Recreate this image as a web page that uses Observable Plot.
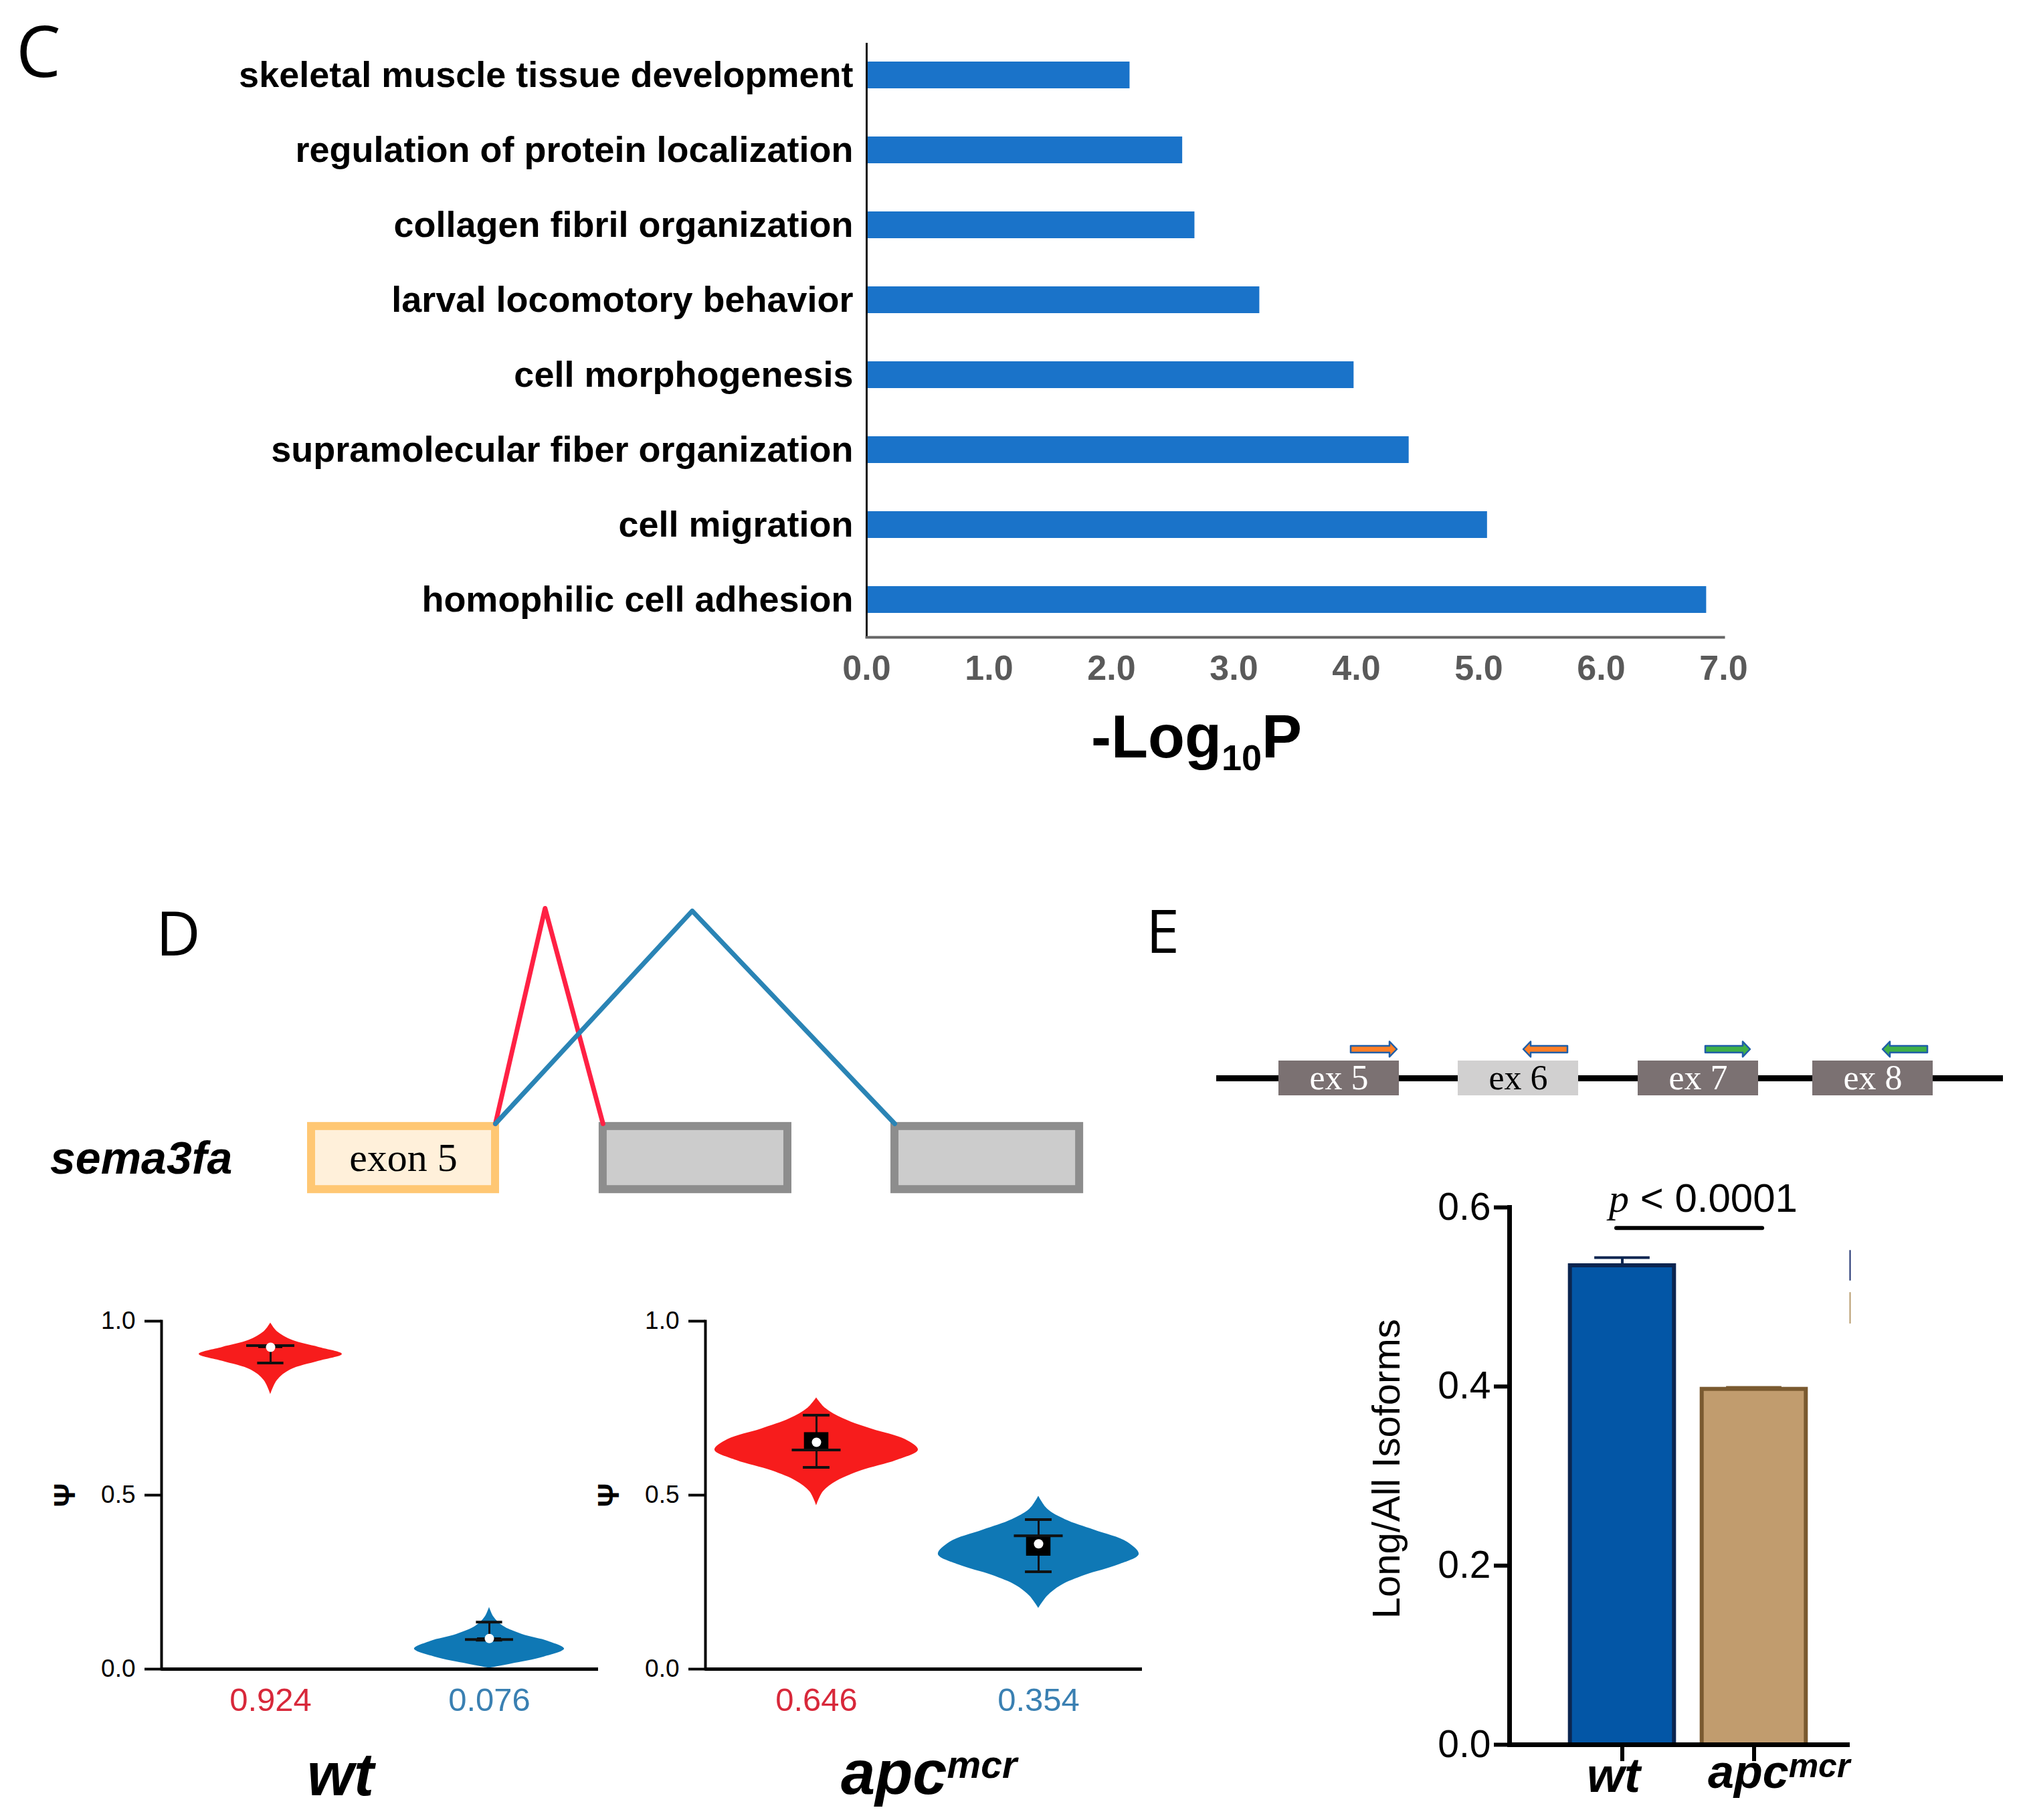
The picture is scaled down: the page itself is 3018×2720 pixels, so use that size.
<!DOCTYPE html>
<html><head><meta charset="utf-8">
<script src="https://cdn.jsdelivr.net/npm/d3@7"></script>
<script src="https://cdn.jsdelivr.net/npm/@observablehq/plot@0.6"></script>
<style>
body{margin:0;background:#fff;}
#root{position:relative;width:3018px;height:2720px;background:#fff;overflow:hidden;font-family:"Liberation Sans",Arial,sans-serif;}
.abs{position:absolute;line-height:1;white-space:nowrap;}
</style></head><body><div id="root"></div>
<script>
// ---------- Panel C: GO enrichment ----------
const goTerms = ["skeletal muscle tissue development","regulation of protein localization","collagen fibril organization","larval locomotory behavior","cell morphogenesis","supramolecular fiber organization","cell migration","homophilic cell adhesion"];
const goLogP = [2.15, 2.58, 2.68, 3.21, 3.98, 4.43, 5.07, 6.86];
const goTicks = [0, 1, 2, 3, 4, 5, 6, 7];

// ---------- Panel D: sashimi + violins ----------
const sashimiExons = [
  {name: "exon 5", start: 0, end: 1, focal: true},
  {name: "", start: 1.585, end: 2.589, focal: false},
  {name: "", start: 3.171, end: 4.175, focal: false}
];
const junctions = [
  {from: 1.0, to: 1.585, apex: 1.27, height: 1.0, kind: "inclusion"},
  {from: 1.0, to: 3.171, apex: 2.07, height: 0.988, kind: "skipping"}
];
const psiTicks = [0, 0.5, 1];
const wtPsi = [0.924, 0.076];
const apcPsi = [0.646, 0.354];
// violin outlines: [psi, half-width]
const wtInclShape = [[0.995,0],[0.97,0.03],[0.945,0.10],[0.925,0.22],[0.905,0.327],[0.885,0.22],[0.86,0.09],[0.83,0.03],[0.79,0]];
const wtSkipShape = [[0.178,0],[0.15,0.02],[0.125,0.06],[0.10,0.15],[0.08,0.27],[0.058,0.343],[0.035,0.25],[0.015,0.10],[0.003,0]];
const apcInclShape = [[0.78,0],[0.75,0.04],[0.72,0.12],[0.69,0.25],[0.66,0.40],[0.63,0.458],[0.60,0.36],[0.57,0.20],[0.54,0.09],[0.51,0.03],[0.47,0]];
const apcSkipShape = [[0.497,0],[0.46,0.04],[0.43,0.12],[0.40,0.25],[0.365,0.40],[0.33,0.452],[0.30,0.36],[0.27,0.21],[0.24,0.10],[0.21,0.04],[0.175,0]];
// box summaries: lo, q1, q3, hi, line, mean
const wtStats = [
  {lo: 0.88, q1: 0.922, q3: 0.93, hi: 0.93, line: 0.93, mean: 0.925},
  {lo: 0.083, q1: 0.083, q3: 0.09, hi: 0.135, line: 0.085, mean: 0.088}
];
const apcStats = [
  {lo: 0.58, q1: 0.63, q3: 0.68, hi: 0.73, line: 0.63, mean: 0.652},
  {lo: 0.28, q1: 0.325, q3: 0.383, hi: 0.43, line: 0.383, mean: 0.36}
];

// ---------- Panel E: gene model + qPCR ratio ----------
const geneSpan = [-0.93, 10.83];
const exonsE = [
  {name: "ex 5", start: 0, end: 1.8, alt: false},
  {name: "ex 6", start: 2.68, end: 4.48, alt: true},
  {name: "ex 7", start: 5.37, end: 7.17, alt: false},
  {name: "ex 8", start: 7.98, end: 9.78, alt: false}
];
const primers = [
  {start: 1.08, end: 1.77, dir: 1, pair: "long"},
  {start: 3.66, end: 4.32, dir: -1, pair: "long"},
  {start: 6.38, end: 7.05, dir: 1, pair: "all"},
  {start: 9.03, end: 9.70, dir: -1, pair: "all"}
];
const isoGroups = ["wt", "apc"];
const isoRatio = [0.535, 0.397];
const isoErr = [0.009, 0.002];
const isoTicks = [0, 0.2, 0.4, 0.6];
const pText = "< 0.0001";

// ---------- helpers ----------
const root = document.getElementById("root");
const baseStyle = {fontFamily: "'Liberation Sans', Arial, sans-serif", background: "transparent", overflow: "visible", maxWidth: "none"};
function place(node, left, top) {
  const d = document.createElement("div");
  d.style.position = "absolute"; d.style.left = left + "px"; d.style.top = top + "px";
  d.appendChild(node); root.appendChild(d);
}
function label(html, css) {
  const d = document.createElement("div");
  d.className = "abs"; d.innerHTML = html;
  Object.assign(d.style, css); root.appendChild(d);
}

// ---------- Panel C ----------
const goData = goTerms.map((t, i) => ({term: t, logP: goLogP[i]}));
place(Plot.plot({
  width: 2700, height: 1060,
  marginLeft: 1295, marginRight: 124, marginTop: 65, marginBottom: 108,
  style: baseStyle,
  x: {domain: [0, 7], label: null},
  y: {domain: goTerms, range: [54, 953], paddingInner: 0.644, paddingOuter: 0.322, label: null},
  marks: [
    Plot.barX(goData, {x: "logP", y: "term", fill: "#1a73c9"}),
    Plot.axisY({tickSize: 0, tickPadding: 20, fontSize: 54, fontWeight: "bold", fill: "#000", label: null}),
    Plot.axisX({ticks: goTicks, tickFormat: d3.format(".1f"), tickSize: 0, tickPadding: 27, fontSize: 52, fontWeight: "bold", fill: "#5a5a5a", label: null}),
    Plot.frame({anchor: "left", stroke: "#111", strokeWidth: 3}),
    Plot.frame({anchor: "bottom", stroke: "#666", strokeWidth: 4})
  ]
}), 0, 0);
label('-Log<span style="font-size:0.6em;vertical-align:-0.35em">10</span>P',
  {left: "1631px", top: "1056px", fontSize: "90px", fontWeight: "bold", color: "#000"});
label("C", {left: "24px", top: "21px", fontSize: "106px", fontFamily: "'Open Sans', sans-serif", color: "#000"});

// ---------- Panel D: sashimi ----------
const junctionPts = junctions.flatMap(j => [
  {x: j.from, y: 0, kind: j.kind}, {x: j.apex, y: j.height, kind: j.kind}, {x: j.to, y: 0, kind: j.kind}
]);
place(Plot.plot({
  width: 1300, height: 480, margin: 0,
  style: baseStyle,
  x: {domain: [0, 1], range: [65, 340], axis: null},
  y: {domain: [0, 1], range: [349, 27], axis: null},
  color: {type: "identity"},
  marks: [
    Plot.rect(sashimiExons, {x1: "start", x2: "end", y1: -0.305, y2: -0.012,
      fill: d => d.focal ? "#fff0da" : "#cccccc",
      stroke: d => d.focal ? "#ffc773" : "#8d8d8d", strokeWidth: 12}),
    Plot.text(sashimiExons, {x: d => (d.start + d.end) / 2, y: -0.16, text: "name",
      fontFamily: "'Liberation Serif', serif", fontSize: 60, fill: "#000"}),
    Plot.line(junctionPts, {x: "x", y: "y", z: "kind",
      stroke: d => d.kind === "inclusion" ? "#ff2144" : "#2a84b5", strokeWidth: 7})
  ]
}), 400, 1330);
label("sema3fa", {left: "75px", top: "1696px", fontSize: "68px", fontWeight: "bold", fontStyle: "italic", color: "#000"});
label("D", {left: "233px", top: "1347px", fontSize: "92px", fontFamily: "'Open Sans', sans-serif", color: "#000"});

// ---------- Panel D: violins ----------
function violinPlot(shapes, stats, psi, xRange) {
  const red = "#f71c1c", blue = "#0f78b5";
  const cols = [red, blue];
  const marks = [];
  shapes.forEach((s, i) => {
    marks.push(Plot.areaX(s, {y: d => d[0], x1: d => i + 1 - d[1], x2: d => i + 1 + d[1],
      fill: cols[i], curve: "catmull-rom"}));
  });
  const st = stats.map((s, i) => ({...s, pos: i + 1}));
  marks.push(
    Plot.ruleX(st, {x: "pos", y1: "lo", y2: "hi", stroke: "#111", strokeWidth: 3}),
    Plot.rect(st, {x1: d => d.pos - 0.055, x2: d => d.pos + 0.055, y1: "q1", y2: "q3", fill: "#000"}),
    Plot.ruleY(st, {y: "lo", x1: d => d.pos - 0.06, x2: d => d.pos + 0.06, stroke: "#111", strokeWidth: 4}),
    Plot.ruleY(st, {y: "hi", x1: d => d.pos - 0.06, x2: d => d.pos + 0.06, stroke: "#111", strokeWidth: 4}),
    Plot.ruleY(st, {y: "line", x1: d => d.pos - 0.11, x2: d => d.pos + 0.11, stroke: "#111", strokeWidth: 4}),
    Plot.dot(st, {x: "pos", y: "mean", r: 7, fill: "#fff", stroke: "none"}),
    Plot.frame({anchor: "left", stroke: "#000", strokeWidth: 4}),
    Plot.ruleY([0], {stroke: "#000", strokeWidth: 5}),
    Plot.axisY({ticks: psiTicks, tickFormat: d3.format(".1f"), tickSize: 25, tickPadding: 14, fontSize: 37, strokeWidth: 4, label: null}),
    Plot.text(["Ψ"], {frameAnchor: "left", dx: -144, rotate: -90, textAnchor: "middle", fontSize: 44, fontWeight: "bold", fill: "#000"}),
    Plot.text(psi, {x: (d, i) => i + 1, frameAnchor: "bottom", dy: 62, text: d => d.toFixed(3),
      fill: (d, i) => i ? "#3a80b2" : "#d8283a", fontSize: 49})
  );
  return Plot.plot({
    width: 900, height: 820, marginLeft: 241, marginRight: 6, marginTop: 74, marginBottom: 226,
    style: baseStyle,
    x: {domain: [1, 2], range: xRange, axis: null},
    y: {domain: [0, 1], label: null, axis: null},
    color: {type: "identity"},
    marks
  });
}
place(violinPlot([wtInclShape, wtSkipShape], wtStats, wtPsi, [404, 731]), 0, 1900);
place(violinPlot([apcInclShape, apcSkipShape], apcStats, apcPsi, [407, 739]), 813, 1900);
label("wt", {left: "459px", top: "2607px", fontSize: "90px", fontWeight: "bold", fontStyle: "italic", color: "#000"});
label('apc<span style="font-size:57px;position:relative;top:-24px">mcr</span>',
  {left: "1257px", top: "2603px", fontSize: "92px", fontWeight: "bold", fontStyle: "italic", color: "#000"});

// ---------- Panel E: gene model ----------
const bodyH = 0.19, headH = 0.44, headL = 0.11, primerY = 1.654;
const primerPts = primers.flatMap((p, k) => {
  const id = "p" + k;
  if (p.dir > 0) {
    const xh = p.end - headL;
    return [
      {id, pair: p.pair, x: p.start, y1: primerY - bodyH, y2: primerY + bodyH},
      {id, pair: p.pair, x: xh, y1: primerY - bodyH, y2: primerY + bodyH},
      {id, pair: p.pair, x: xh, y1: primerY - headH, y2: primerY + headH},
      {id, pair: p.pair, x: p.end, y1: primerY, y2: primerY}
    ];
  } else {
    const xh = p.start + headL;
    return [
      {id, pair: p.pair, x: p.start, y1: primerY, y2: primerY},
      {id, pair: p.pair, x: xh, y1: primerY - headH, y2: primerY + headH},
      {id, pair: p.pair, x: xh, y1: primerY - bodyH, y2: primerY + bodyH},
      {id, pair: p.pair, x: p.end, y1: primerY - bodyH, y2: primerY + bodyH}
    ];
  }
});
place(Plot.plot({
  width: 1218, height: 140, margin: 0,
  style: baseStyle,
  x: {domain: [0, 9.78], range: [111, 1089], axis: null},
  y: {domain: [-1, 1], range: [117, 65], axis: null},
  color: {type: "identity"},
  marks: [
    Plot.ruleY([0], {x1: geneSpan[0], x2: geneSpan[1], stroke: "#000", strokeWidth: 9}),
    Plot.rect(exonsE, {x1: "start", x2: "end", y1: -1, y2: 1, fill: d => d.alt ? "#d1d0d0" : "#7b7172"}),
    Plot.text(exonsE, {x: d => (d.start + d.end) / 2, y: 0, text: "name",
      fill: d => d.alt ? "#000" : "#fff", fontFamily: "'Liberation Serif', serif", fontSize: 52}),
    Plot.areaY(primerPts, {x: "x", y1: "y1", y2: "y2", z: "id",
      fill: d => d.pair === "long" ? "#ff7f27" : "#3fb048", stroke: "#1f5ea8", strokeWidth: 2.5})
  ]
}), 1800, 1520);
label("E", {left: "1713px", top: "1344px", fontSize: "90px", fontFamily: "'Open Sans', sans-serif", color: "#000"});

// ---------- Panel E: bar chart ----------
const isoData = isoGroups.map((g, i) => ({g, pos: i + 1, v: isoRatio[i], e: isoErr[i]}));
const isoFill = {wt: "#0356a6", apc: "#c19c6e"};
const isoStroke = {wt: "#0b2550", apc: "#7a5a30"};
const xE = d3.scaleLinear().domain([1, 2]).range([474.5, 671.5]);
const rightEdge = xE.invert(815);
place(Plot.plot({
  width: 1068, height: 1020, marginLeft: 306, marginRight: 253, marginTop: 104, marginBottom: 113,
  style: baseStyle,
  x: {domain: [1, 2], range: [474.5, 671.5], axis: null},
  y: {domain: [0, 0.6], label: null, axis: null},
  color: {type: "identity"},
  marks: [
    Plot.rectY(isoData, {x1: d => d.pos - 0.395, x2: d => d.pos + 0.395, y1: 0, y2: "v",
      fill: d => isoFill[d.g], stroke: d => isoStroke[d.g], strokeWidth: 6}),
    Plot.ruleX(isoData, {x: "pos", y1: "v", y2: d => d.v + d.e, stroke: d => isoStroke[d.g], strokeWidth: 4}),
    Plot.ruleY(isoData, {y: d => d.v + d.e, x1: d => d.pos - 0.21, x2: d => d.pos + 0.21, stroke: d => isoStroke[d.g], strokeWidth: 4}),
    Plot.frame({anchor: "left", stroke: "#000", strokeWidth: 7}),
    Plot.ruleY([0], {stroke: "#000", strokeWidth: 7}),
    Plot.axisY({ticks: isoTicks, tickFormat: d3.format(".1f"), tickSize: 23, tickPadding: 5, fontSize: 57, strokeWidth: 6, fill: "#000", label: null}),
    Plot.axisX({ticks: [1, 2], tickSize: 25, strokeWidth: 6, tickFormat: () => "", label: null}),
    Plot.ruleY([0.577], {x1: 0.957, x2: 2.064, stroke: "#000", strokeWidth: 6, strokeLinecap: "round"}),
    Plot.text(["Long/All Isoforms"], {frameAnchor: "left", dx: -183, y: 0.308, rotate: -90, textAnchor: "middle", fontSize: 58, fill: "#000"}),
    Plot.ruleX([0.52], {x: rightEdge, y1: 0.518, y2: 0.552, stroke: "#1c2f6e", strokeWidth: 2}),
    Plot.ruleX([0.47], {x: rightEdge, y1: 0.47, y2: 0.505, stroke: "#b79a6c", strokeWidth: 2})
  ]
}), 1950, 1700);
label('<span style="font-family:\'Liberation Serif\',serif;font-style:italic">p</span> ' + pText,
  {left: "2405px", top: "1761px", fontSize: "60px", color: "#000"});
label("wt", {left: "2372px", top: "2617px", fontSize: "72px", fontWeight: "bold", fontStyle: "italic", color: "#000"});
label('apc<span style="font-size:50px;position:relative;top:-16px">mcr</span>',
  {left: "2553px", top: "2613px", fontSize: "70px", fontWeight: "bold", fontStyle: "italic", color: "#000"});
</script></body></html>
